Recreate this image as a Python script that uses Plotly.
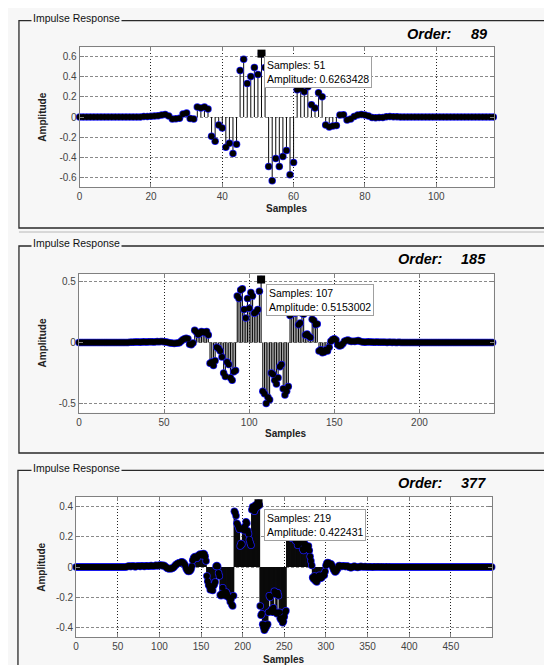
import plotly.graph_objects as go

W, H = 552, 665

# ---------------- data ----------------
orders = [89, 185, 377]
cursor_samples = [51, 107, 219]
cursor_text = ["Samples: 51<br>Amplitude: 0.6263428",
               "Samples: 107<br>Amplitude: 0.5153002",
               "Samples: 219<br>Amplitude: 0.422431"]

p1_values = ([0.0] * 18 +
             [0.004, 0.006, 0.008, 0.010, 0.012, 0.020, 0.024, 0.010, -0.020, -0.018,
              -0.012, 0.030, 0.040, -0.015, -0.020] +
             [0.100, 0.090, 0.100, 0.080] +
             [-0.190, -0.240, -0.080, -0.110, -0.300, -0.260, -0.360, -0.270] +
             [0.460, 0.570, 0.330, 0.400, 0.490, 0.420, 0.6263428, 0.490] +
             [-0.490, -0.630, -0.410, -0.490, -0.390, -0.330, -0.570, -0.450] +
             [0.270, 0.280, 0.250, 0.300, 0.120, 0.090, 0.240, 0.200] +
             [-0.080, -0.100, -0.090, -0.085] +
             [0.020, 0.022, -0.030, -0.020, 0.005, 0.020, 0.024, 0.020, 0.010, -0.004,
              -0.008, -0.006, -0.004, 0.003, 0.004, 0.003, 0.002, 0.001] +
             [0.0] * 26)

p2_values = ([0.0] * 30 +
             [0.001, 0.002, 0.002, 0.003, 0.004, 0.003, 0.002, 0.004, 0.005, 0.004,
              0.003, 0.005, 0.006, 0.005, 0.004, 0.006, 0.007, 0.006, 0.008, 0.007,
              0.005, 0.004, 0.002, -0.002, -0.004, -0.006, -0.008, -0.007, -0.005, -0.003] +
             [0.010, 0.022, 0.030, 0.035, 0.030, -0.015, -0.020, -0.005, 0.100, 0.085,
              0.064, 0.075, 0.090, 0.085, 0.080, 0.090, 0.060] +
             [-0.170, -0.160, -0.190, -0.150, -0.040, -0.050, -0.070, -0.120, -0.250, -0.280,
              -0.160, -0.180, -0.290, -0.310, -0.240, -0.230] +
             [0.380, 0.360, 0.430, 0.440, 0.270, 0.200, 0.360, 0.280, 0.410, 0.380,
              0.240, 0.250, 0.270, 0.420, 0.5153002] +
             [-0.400, -0.420, -0.500, -0.450, -0.470, -0.250, -0.260, -0.310, -0.340, -0.290,
              -0.200, -0.180, -0.380, -0.430, -0.400, -0.360] +
             [0.220, 0.240, 0.260, 0.240, 0.250, 0.145, 0.160, 0.240, 0.230, 0.060,
              0.070, 0.050, 0.040, 0.190, 0.180, 0.145, 0.150] +
             [-0.070, -0.060, -0.085, -0.080, -0.060, -0.070, -0.040, 0.010, 0.025, 0.030,
              0.020, -0.020, -0.030, -0.025, -0.010, 0.010, 0.015, 0.020, 0.012, 0.008] +
             [0.010, 0.008, 0.012, 0.015, 0.010, 0.006, 0.004, 0.002, 0.003, 0.005,
              0.004, 0.003, 0.001, 0.002, 0.003, 0.002, 0.001, 0.001, 0.002, 0.001,
              0.000, 0.001, 0.001, 0.000, 0.001, 0.000, 0.000, 0.001, 0.000, 0.000] +
             [0.0] * 54)

p3_values = ([0.0] * 60 +
             [0.002, 0.004, 0.003, 0.005, 0.006, 0.004, 0.003, 0.005, 0.007, 0.006,
              0.004, 0.002, 0.003, 0.005, 0.006, 0.007, 0.005, 0.004, 0.006, 0.008,
              0.007, 0.005, 0.004, 0.006, 0.008, 0.009, 0.007, 0.005, 0.006, 0.008,
              0.010, 0.009, 0.007, 0.006, 0.008, 0.010, 0.011, 0.009, 0.008, 0.010] +
             [0.012, 0.013, 0.011, 0.009, 0.010, 0.012, 0.008, 0.004, -0.002, -0.006,
              -0.010, -0.012, -0.011, -0.009, -0.012, -0.010, -0.006, -0.003, 0.004, 0.010,
              0.016, 0.020, 0.024, 0.026, 0.028, 0.030, 0.032, 0.034, 0.031, 0.027] +
             [0.020, 0.010, -0.008, -0.018, -0.026, -0.030, -0.028, -0.024, -0.015, 0.005,
              0.045, 0.060, 0.066, 0.070, 0.064, 0.058, 0.072, 0.078, 0.082, 0.086,
              0.080, 0.074, 0.088, 0.090, 0.084, 0.070, 0.040, -0.060, -0.095, -0.120] +
             [-0.128, -0.150, -0.140, -0.148, -0.155, -0.125, -0.115, -0.100, 0.005, 0.010,
              0.004, -0.040, -0.060, -0.185, -0.190, -0.175, -0.137, -0.180, -0.170, -0.190,
              -0.165, -0.175, -0.195, -0.200, -0.205, -0.230, -0.215, -0.250, -0.258, -0.190] +
             [0.370, 0.360, 0.340, 0.290, 0.280, 0.265, 0.250, 0.140, 0.155, 0.150,
              0.250, 0.260, 0.240, 0.270, 0.300, 0.290, 0.240, 0.220, 0.180, 0.160,
              0.145, 0.380, 0.400, 0.390, 0.370, 0.410, 0.390, 0.415, 0.400, 0.422431, 0.410] +
             [-0.258, -0.320, -0.310, -0.380, -0.400, -0.420, -0.410, -0.400, -0.390, -0.380,
              -0.300, -0.190, -0.200, -0.290, -0.280, -0.300, -0.270, -0.160, -0.180, -0.300,
              -0.310, -0.170, -0.190, -0.300, -0.340, -0.350, -0.340, -0.370, -0.360, -0.330,
              -0.300, -0.290] +
             [0.220, 0.210, 0.200, 0.200, 0.205, 0.195, 0.190, 0.195, 0.200, 0.190,
              0.180, 0.170, 0.190, 0.145, 0.150, 0.160, 0.175, 0.170, 0.160, 0.120,
              0.110, 0.155, 0.150, 0.140, 0.120, 0.130, 0.140, 0.110, 0.070, 0.040, 0.010] +
             [-0.070, -0.080, -0.060, -0.090, -0.095, -0.100, -0.085, -0.070, -0.055, -0.060,
              -0.075, -0.070, -0.060, -0.050, -0.055, -0.030] +
             [0.010, 0.025, 0.030, 0.028, 0.020, 0.018, 0.022, 0.012, 0.000, -0.015,
              -0.025, -0.033, -0.030, -0.020, -0.012, 0.005, 0.010, 0.008, 0.006, 0.004,
              0.006, 0.008, 0.005, 0.003, 0.004, 0.006, 0.005, 0.003, -0.002, -0.004] +
             [-0.005, -0.003, 0.002, 0.004, 0.005, 0.003, 0.001, -0.002, -0.003, -0.001,
              0.002, 0.003, 0.004, 0.003, 0.002, 0.001, 0.002, 0.003, 0.002, 0.001,
              0.000, 0.001, 0.002, 0.002, 0.001, 0.000, -0.001, 0.001, 0.002, 0.001,
              0.000, 0.001, 0.001, 0.002, 0.001, 0.000, 0.001, 0.001, 0.000, 0.001,
              0.000, 0.000, 0.001, 0.001, 0.000, 0.000, 0.001, 0.000, 0.000, 0.000,
              0.000, 0.000, 0.000, 0.000, 0.000, 0.000, 0.000, 0.000, 0.000, 0.000] +
             [0.0] * 110)

p1_xticks = [0, 20, 40, 60, 80, 100]
p2_xticks = [0, 50, 100, 150, 200]
p3_xticks = [0, 50, 100, 150, 200, 250, 300, 350, 400, 450]
p1_yticks = [-0.6, -0.4, -0.2, 0, 0.2, 0.4, 0.6]
p1_yticktext = ["-0.6", "-0.4", "-0.2", "0", "0.2", "0.4", "0.6"]
p2_yticks = [-0.5, 0, 0.5]
p2_yticktext = ["-0.5", "0", "0.5"]
p3_yticks = [-0.4, -0.2, 0, 0.2, 0.4]
p3_yticktext = ["-0.4", "-0.2", "0", "0.2", "0.4"]

# ---------------- layout helpers ----------------
def px(xp):
    return xp / W

def py(yp):
    return 1 - yp / H

FONT = "Liberation Sans, Arial, sans-serif"
BG = "#f7f7f7"

panels = [
    dict(vals=p1_values, xt=p1_xticks, yt=p1_yticks, ytt=p1_yticktext,
         xdom=(69, 486), ydom=(39.3, 179.3), xr=[0, 116.3], yr=[-0.695, 0.689],
         box=(8, 12.7, 575, 220), title_y=12.7, stem_w=1.0,
         order_x=(396, 481), order_y=26, samples_y=200, amp_x=31.5,
         shift=(3, -2)),
    dict(vals=p2_values, xt=p2_xticks, yt=p2_yticks, ytt=p2_yticktext,
         xdom=(68.3, 485.3), ydom=(265.7, 404.5), xr=[0, 243.6], yr=[-0.574, 0.563],
         box=(8, 238, 575, 445), title_y=238, stem_w=1.1,
         order_x=(387, 480), order_y=251, samples_y=425, amp_x=31.5,
         shift=(4.5, -4.5)),
    dict(vals=p3_values, xt=p3_xticks, yt=p3_yticks, ytt=p3_yticktext,
         xdom=(65.5, 483.3), ydom=(488.7, 629.3), xr=[0, 499], yr=[-0.466, 0.466],
         box=(7, 462.3, 550, 700), title_y=462.3, stem_w=1.6,
         order_x=(387, 480), order_y=475, samples_y=651, amp_x=30,
         shift=(5, -5.5)),
]

fig = go.Figure()
shapes = []
annotations = []

for i, p in enumerate(panels):
    n = i + 1
    xa = "x" if n == 1 else f"x{n}"
    ya = "y" if n == 1 else f"y{n}"
    vals = p["vals"]
    xs = list(range(len(vals)))

    # stems
    sx, sy = [], []
    for x, v in zip(xs, vals):
        sx += [x, x, None]
        sy += [0, v, None]
    fig.add_trace(go.Scatter(x=sx, y=sy, mode="lines", xaxis=xa, yaxis=ya,
                             line=dict(color="#0a0a0a", width=p["stem_w"]),
                             hoverinfo="skip", showlegend=False))
    # markers: blue-rimmed underlay, then black fill on top
    fig.add_trace(go.Scatter(x=xs, y=vals, mode="markers", xaxis=xa, yaxis=ya,
                             marker=dict(symbol="circle", size=7.5, color="#1818ee",
                                         line=dict(width=0)),
                             cliponaxis=False, showlegend=False))
    fig.add_trace(go.Scatter(x=xs, y=vals, mode="markers", xaxis=xa, yaxis=ya,
                             marker=dict(symbol="circle", size=6, color="#000000",
                                         line=dict(width=0)),
                             cliponaxis=False, showlegend=False))
    # data cursor
    cs = cursor_samples[i]
    fig.add_trace(go.Scatter(x=[cs], y=[vals[cs]], mode="markers", xaxis=xa, yaxis=ya,
                             marker=dict(symbol="square", size=8, color="#000000"),
                             cliponaxis=False, showlegend=False))
    annotations.append(dict(xref=xa, yref=ya, x=cs, y=vals[cs], text=cursor_text[i],
                            showarrow=False, xanchor="left", yanchor="top",
                            xshift=p["shift"][0], yshift=p["shift"][1], align="left",
                            font=dict(family=FONT, size=10.5, color="#000000"),
                            bgcolor="#ffffff", bordercolor="#a0a0a0", borderwidth=1,
                            borderpad=2))

    axis_common = dict(showline=True, linecolor="#808080", linewidth=1, mirror="ticks",
                       ticks="inside", ticklen=4, tickcolor="#808080",
                       tickfont=dict(family=FONT, size=10, color="#444444"),
                       showgrid=True, zeroline=False)
    fig.update_layout(**{
        ("xaxis" if n == 1 else f"xaxis{n}"): dict(
            axis_common, domain=[px(p["xdom"][0]), px(p["xdom"][1])],
            range=p["xr"], anchor=ya, tickmode="array", tickvals=p["xt"],
            ticktext=[str(t) for t in p["xt"]],
            gridcolor="#222222", griddash="1px,2px", gridwidth=1),
        ("yaxis" if n == 1 else f"yaxis{n}"): dict(
            axis_common, domain=[py(p["ydom"][1]), py(p["ydom"][0])],
            range=p["yr"], anchor=xa, tickmode="array", tickvals=p["yt"],
            ticktext=p["ytt"], gridcolor="#8a8a8a", griddash="3px,2px", gridwidth=1),
    })

    # group box
    bx0, by0, bx1, by1 = p["box"]
    shapes.append(dict(type="rect", xref="paper", yref="paper",
                       x0=px(bx0), x1=px(bx1), y0=py(by1), y1=py(by0),
                       line=dict(color="#2a2a2a", width=1.3), layer="below"))
    if n == 1:
        shapes.append(dict(type="line", xref="paper", yref="paper",
                           x0=px(bx0), x1=px(bx1), y0=py(by1 + 4), y1=py(by1 + 4),
                           line=dict(color="#b8b8b8", width=1), layer="below"))
    annotations.append(dict(xref="paper", yref="paper", x=px(20), y=py(p["title_y"] - 2.5),
                            text="Impulse Response", showarrow=False,
                            xanchor="left", yanchor="middle",
                            font=dict(family=FONT, size=10.5, color="#111111"),
                            bgcolor=BG, borderpad=1))
    # Order text
    annotations.append(dict(xref="paper", yref="paper", x=px(p["order_x"][0]),
                            y=py(p["order_y"]), text="<b><i>Order:</i></b>",
                            showarrow=False, xanchor="left", yanchor="middle",
                            font=dict(family=FONT, size=14.5, color="#000000")))
    annotations.append(dict(xref="paper", yref="paper", x=px(p["order_x"][1]),
                            y=py(p["order_y"]), text=f"<b><i>{orders[i]}</i></b>",
                            showarrow=False, xanchor="right", yanchor="middle",
                            font=dict(family=FONT, size=14.5, color="#000000")))
    # axis titles
    annotations.append(dict(xref="paper", yref="paper",
                            x=px((p["xdom"][0] + p["xdom"][1]) / 2), y=py(p["samples_y"]),
                            text="<b>Samples</b>", showarrow=False,
                            xanchor="center", yanchor="middle",
                            font=dict(family=FONT, size=10, color="#222222")))
    annotations.append(dict(xref="paper", yref="paper", x=px(p["amp_x"]),
                            y=py((p["ydom"][0] + p["ydom"][1]) / 2),
                            text="<b>Amplitude</b>", showarrow=False, textangle=-90,
                            xanchor="center", yanchor="middle",
                            font=dict(family=FONT, size=10, color="#222222")))

fig.update_layout(width=W, height=H, autosize=False,
                  margin=dict(l=0, r=0, t=0, b=0, pad=0),
                  paper_bgcolor=BG, plot_bgcolor="#ffffff",
                  shapes=shapes, annotations=annotations, showlegend=False,
                  hovermode=False)

fig.write_html("out.html", config={"displayModeBar": False})
